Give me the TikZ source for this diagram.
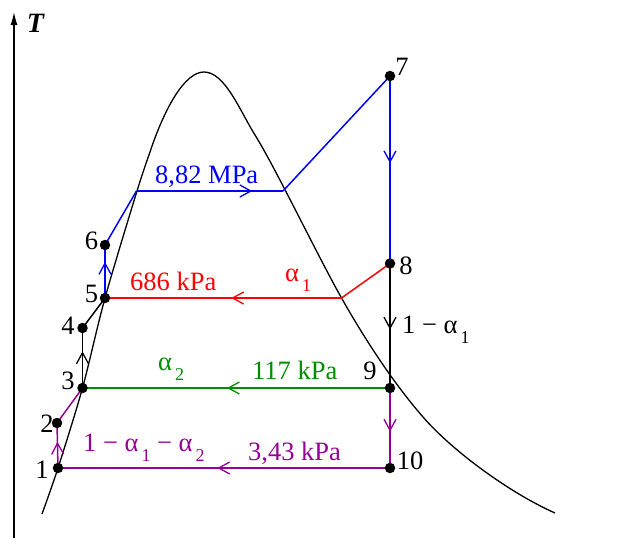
\documentclass[tikz,border=0pt]{standalone}
\usepackage{fontspec}
\setmainfont{Liberation Serif}
\usetikzlibrary{arrows.meta,decorations.markings}
\definecolor{cblue}{RGB}{0,0,255}
\definecolor{cred}{RGB}{255,0,0}
\definecolor{cgreen}{RGB}{0,140,0}
\definecolor{cpurp}{RGB}{150,0,150}
\newcommand\alsub[1]{α\hspace{3pt}\raisebox{-10pt}{\fontsize{18}{18}\selectfont #1}}
\tikzset{
  marr/.style={postaction={decorate,decoration={markings,
     mark=at position #1 with {\arrow{Straight Barb[length=11pt,width=12pt,line width=1.3pt]}}}}},
  dot/.style={circle,fill=black,inner sep=0pt,minimum size=10.5pt},
  num/.style={inner sep=0pt,font=\fontsize{26.5}{30}\selectfont},
  lbl/.style={inner sep=0pt,anchor=base west,font=\fontsize{26.5}{30}\selectfont},
  ln/.style={line width=1.5pt},
}
\begin{document}
\begin{tikzpicture}[x=1pt,y=-1pt,line join=round]
\useasboundingbox (0,0) rectangle (636,538);
% coordinates
\coordinate (c1) at (58,468);
\coordinate (c2) at (57,423);
\coordinate (c3) at (82.5,388);
\coordinate (c4) at (82.5,328);
\coordinate (c5) at (105,298);
\coordinate (c6) at (105,245);
\coordinate (c7) at (390,76);
\coordinate (c8) at (390,263.5);
\coordinate (c9) at (390,388);
\coordinate (c10) at (390,468);
\coordinate (b1) at (136.5,191);
\coordinate (b2) at (283,191);
\coordinate (k8) at (341.5,298);
\coordinate (axb) at (14,538);
\coordinate (axt) at (14,12);
% axis
\draw[line width=1.3pt,-{Latex[length=13pt,width=7pt]}] (axb) -- (axt);
\node[inner sep=0pt,font=\fontsize{28}{30}\selectfont\bfseries\itshape] (T) at (35.5,23.5) {T};
% dome
\draw[line width=1.3pt] plot[smooth,tension=0.5] coordinates {
 (42,514) (58,468) (82.5,388) (105,298) (137,191) (150,152)}
 .. controls (165,107) and (185,72) .. (204,72)
 .. controls (225,72) and (240,111) .. (255,135)
 .. controls (275,167) and (316.5,253.5) .. (341.5,298)
 .. controls (368.5,345.5) and (396,386) .. (423,417)
 .. controls (453,451.5) and (510,493) .. (555,513);
% blue
\draw[ln,cblue,marr=0.68] (c5) -- (c6);
\draw[ln,cblue] (c6) -- (b1);
\draw[ln,cblue,marr=0.79] (b1) -- (b2);
\draw[ln,cblue] (b2) -- (c7);
\draw[ln,cblue,marr=0.465] (c7) -- (c8);
% red
\draw[ln,cred] (c8) -- (k8);
\draw[ln,cred,marr=0.466] (k8) -- (c5);
% black
\draw[ln,black,marr=0.53] (c8) -- (c9);
\draw[ln,black,marr=0.61] (c3) -- (c4);
\draw[ln,black] (c4) -- (c5);
% green
\draw[ln,cgreen,marr=0.53] (c9) -- (c3);
% purple
\draw[ln,cpurp,marr=0.545] (c9) -- (c10);
\draw[ln,cpurp,marr=0.52] (c10) -- (c1);
\draw[ln,cpurp,marr=0.58] (c1) -- (c2);
\draw[ln,cpurp] (c2) -- (c3);
% dots
\foreach \i in {1,...,10} \node[dot] (d\i) at (c\i) {};
% numbers
\node[num] (n1) at (42,470) {1};
\node[num] (n2) at (47,424) {2};
\node[num] (n3) at (68,381) {3};
\node[num] (n4) at (68,326) {4};
\node[num] (n5) at (91.5,294) {5};
\node[num] (n6) at (91.5,241) {6};
\node[num] (n7) at (402,67) {7};
\node[num] (n8) at (406,266) {8};
\node[num] (n9) at (370,371) {9};
\node[num] (n10) at (410,461) {10};
% labels
\node[lbl,cblue] (l1) at (155,183) {8,82 MPa};
\node[lbl,cred] (l2) at (130,290) {686 kPa};
\node[lbl,cred] (l3) at (285,281) {\alsub{1}};
\node[lbl,cgreen] (l4) at (158,370) {\alsub{2}};
\node[lbl,cgreen] (l5) at (252,379) {117 kPa};
\node[lbl,cpurp] (l6) at (248,460) {3,43 kPa};
\node[lbl,cpurp] (l7) at (83,451) {1 − \alsub{1} − \alsub{2}};
\node[lbl,black] (l8) at (402,333) {1 − \alsub{1}};
\end{tikzpicture}
\end{document}
